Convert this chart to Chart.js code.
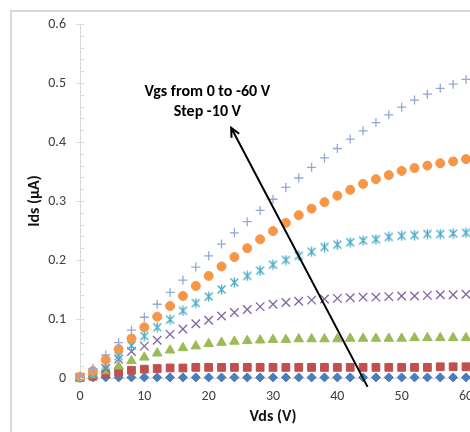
<!DOCTYPE html>
<html>
<head>
<meta charset="utf-8">
<script src="https://cdn.jsdelivr.net/npm/chart.js@4/dist/chart.umd.min.js"></script>
<style>
  html, body { margin: 0; padding: 0; background: #fff; overflow: hidden; }
  #frame { position: absolute; left: 10px; top: 10px; width: 600px; height: 600px;
           border-left: 2px solid #d9d9d9; border-top: 2px solid #d9d9d9; }
  #chart { position: absolute; left: 0; top: 0; }
</style>
</head>
<body>
<div id="frame"></div>
<canvas id="chart" width="500" height="432"></canvas>
<script>
// drain voltage (V)
const vds = [0, 2, 4, 6, 8, 10, 12, 14, 16, 18, 20, 22, 24, 26, 28, 30,
             32, 34, 36, 38, 40, 42, 44, 46, 48, 50, 52, 54, 56, 58, 60];

// drain current (µA), one list per gate voltage
const idsVgs0 = [0, 0.001, 0.001, 0.001, 0.001, 0.001, 0.001, 0.001, 0.001, 0.001, 0.001,
                 0.001, 0.001, 0.001, 0.001, 0.001, 0.001, 0.001, 0.001, 0.001, 0.001,
                 0.001, 0.001, 0.001, 0.001, 0.001, 0.001, 0.001, 0.001, 0.001, 0.001];
const idsVgs10 = [0.001, 0.003, 0.007, 0.010, 0.013, 0.015, 0.016, 0.017, 0.017, 0.018, 0.018,
                  0.018, 0.018, 0.018, 0.018, 0.018, 0.018, 0.018, 0.018, 0.018, 0.018,
                  0.018, 0.018, 0.018, 0.018, 0.018, 0.018, 0.018, 0.019, 0.019, 0.019];
const idsVgs20 = [0.001, 0.005, 0.012, 0.020, 0.029, 0.035, 0.042, 0.047, 0.051, 0.054, 0.058,
                  0.060, 0.062, 0.063, 0.064, 0.065, 0.065, 0.066, 0.066, 0.066, 0.066,
                  0.067, 0.067, 0.067, 0.067, 0.067, 0.068, 0.068, 0.068, 0.068, 0.068];
const idsVgs30 = [0.001, 0.007, 0.016, 0.032, 0.045, 0.054, 0.064, 0.074, 0.083, 0.092, 0.098,
                  0.105, 0.111, 0.116, 0.121, 0.125, 0.128, 0.130, 0.132, 0.134, 0.135,
                  0.136, 0.137, 0.137, 0.138, 0.139, 0.139, 0.140, 0.141, 0.141, 0.142];
const idsVgs40 = [0.001, 0.008, 0.022, 0.037, 0.055, 0.071, 0.086, 0.099, 0.114, 0.127, 0.138,
                  0.150, 0.162, 0.173, 0.182, 0.192, 0.200, 0.207, 0.214, 0.222, 0.226,
                  0.230, 0.233, 0.235, 0.239, 0.241, 0.242, 0.244, 0.244, 0.245, 0.246];
const idsVgs50 = [0.002, 0.012, 0.031, 0.049, 0.067, 0.086, 0.104, 0.122, 0.139, 0.156, 0.173,
                  0.189, 0.205, 0.220, 0.235, 0.249, 0.263, 0.276, 0.287, 0.298, 0.309,
                  0.319, 0.329, 0.337, 0.344, 0.351, 0.356, 0.360, 0.364, 0.367, 0.371];
const idsVgs60 = [0.002, 0.016, 0.039, 0.060, 0.081, 0.103, 0.125, 0.145, 0.166, 0.188, 0.207,
                  0.227, 0.246, 0.265, 0.284, 0.303, 0.323, 0.339, 0.357, 0.373, 0.389,
                  0.405, 0.419, 0.433, 0.446, 0.459, 0.471, 0.481, 0.491, 0.498, 0.506];

// annotation, in data units
const noteLines = ['Vgs from 0 to -60 V', 'Step -10 V'];
const noteX = 19.8;
const noteY = [0.485, 0.451];
const arrowFrom = { x: 44.7, y: -0.015 };
const arrowTo = { x: 23.5, y: 0.424 };

const FONT = 'Carlito, Lato, "Liberation Sans", sans-serif';
const pts = (ys) => vds.map((x, i) => ({ x, y: ys[i] }));

// excel-like asterisk marker: an x with a vertical bar
function asterisk(color) {
  const c = document.createElement('canvas');
  c.width = 11; c.height = 11;
  const g = c.getContext('2d');
  g.strokeStyle = color;
  g.lineWidth = 1.4;
  g.beginPath();
  g.moveTo(1.5, 1.5); g.lineTo(9.5, 9.5);
  g.moveTo(9.5, 1.5); g.lineTo(1.5, 9.5);
  g.moveTo(5.5, 0.5); g.lineTo(5.5, 10.5);
  g.stroke();
  return c;
}

const series = [
  { data: idsVgs60, style: 'cross', color: '#94a7d6', radius: 4.5, border: 1.3 },
  { data: idsVgs50, style: 'circle', color: '#f79646', radius: 4.5, border: 1 },
  { data: idsVgs40, style: asterisk('#4bacc6'), color: '#4bacc6', radius: 5, border: 1 },
  { data: idsVgs30, style: 'crossRot', color: '#8064a2', radius: 6, border: 1.3 },
  { data: idsVgs20, style: 'triangle', color: '#9bbb59', radius: 5.5, border: 1 },
  { data: idsVgs10, style: 'rect', color: '#c0504d', radius: 5.5, border: 1 },
  { data: idsVgs0, style: 'rectRot', color: '#4a7ebb', radius: 4.5, border: 1 }
];

// minor ticks on the y axis + arrow + text note
const decorations = {
  id: 'decorations',
  afterDatasetsDraw(chart) {
    const { ctx, scales: { x, y } } = chart;
    ctx.save();
    ctx.strokeStyle = '#d9d9d9';
    ctx.lineWidth = 1;
    for (let k = 0; k <= 30; k++) {
      const py = Math.round(y.getPixelForValue(k * 0.02)) + 0.5;
      ctx.beginPath();
      ctx.moveTo(x.left, py);
      ctx.lineTo(x.left + 4, py);
      ctx.stroke();
    }

    const x0 = x.getPixelForValue(arrowFrom.x), y0 = y.getPixelForValue(arrowFrom.y);
    const x1 = x.getPixelForValue(arrowTo.x), y1 = y.getPixelForValue(arrowTo.y);
    const ang = Math.atan2(y1 - y0, x1 - x0);
    ctx.strokeStyle = '#000';
    ctx.lineWidth = 2;
    ctx.beginPath();
    ctx.moveTo(x0, y0);
    ctx.lineTo(x1, y1);
    ctx.moveTo(x1 - 10 * Math.cos(ang - 0.45), y1 - 10 * Math.sin(ang - 0.45));
    ctx.lineTo(x1, y1);
    ctx.lineTo(x1 - 10 * Math.cos(ang + 0.45), y1 - 10 * Math.sin(ang + 0.45));
    ctx.stroke();

    ctx.fillStyle = '#000';
    ctx.font = 'bold 16px ' + FONT;
    ctx.textAlign = 'center';
    ctx.textBaseline = 'middle';
    noteLines.forEach((t, i) => {
      ctx.fillText(t, x.getPixelForValue(noteX), y.getPixelForValue(noteY[i]));
    });
    ctx.restore();
  }
};

new Chart(document.getElementById('chart'), {
  type: 'scatter',
  data: {
    datasets: series.map(s => ({
      data: pts(s.data),
      pointStyle: s.style,
      pointRadius: s.radius,
      pointHoverRadius: s.radius,
      backgroundColor: s.color,
      borderColor: s.color,
      pointBorderWidth: s.border,
      showLine: false,
      clip: false
    }))
  },
  options: {
    responsive: false,
    animation: false,
    devicePixelRatio: 1,
    layout: { padding: { left: 0, top: 24, right: 34, bottom: 0 } },
    plugins: { legend: { display: false }, tooltip: { enabled: false } },
    scales: {
      x: {
        type: 'linear',
        min: 0,
        max: 60,
        afterFit: (s) => { s.height = 54; },
        ticks: { stepSize: 10, padding: 10, color: '#404040', font: { family: FONT, size: 14 } },
        grid: { drawOnChartArea: false, drawTicks: false, color: '#d9d9d9' },
        border: { color: '#d9d9d9' },
        title: { display: true, text: 'Vds (V)', color: '#111', padding: { top: 0, bottom: 5 },
                 font: { family: FONT, size: 16, weight: 'bold' } }
      },
      y: {
        min: 0,
        max: 0.6,
        afterFit: (s) => { s.width = 80; },
        ticks: { stepSize: 0.1, padding: 10, color: '#404040', font: { family: FONT, size: 14 } },
        grid: { drawOnChartArea: false, tickLength: 4, color: '#d9d9d9' },
        border: { color: '#d9d9d9' },
        title: { display: true, text: 'Ids (μA)', color: '#111', padding: { top: 25, bottom: 0 },
                 font: { family: FONT, size: 16, weight: 'bold' } }
      }
    }
  },
  plugins: [decorations]
});
</script>
</body>
</html>
